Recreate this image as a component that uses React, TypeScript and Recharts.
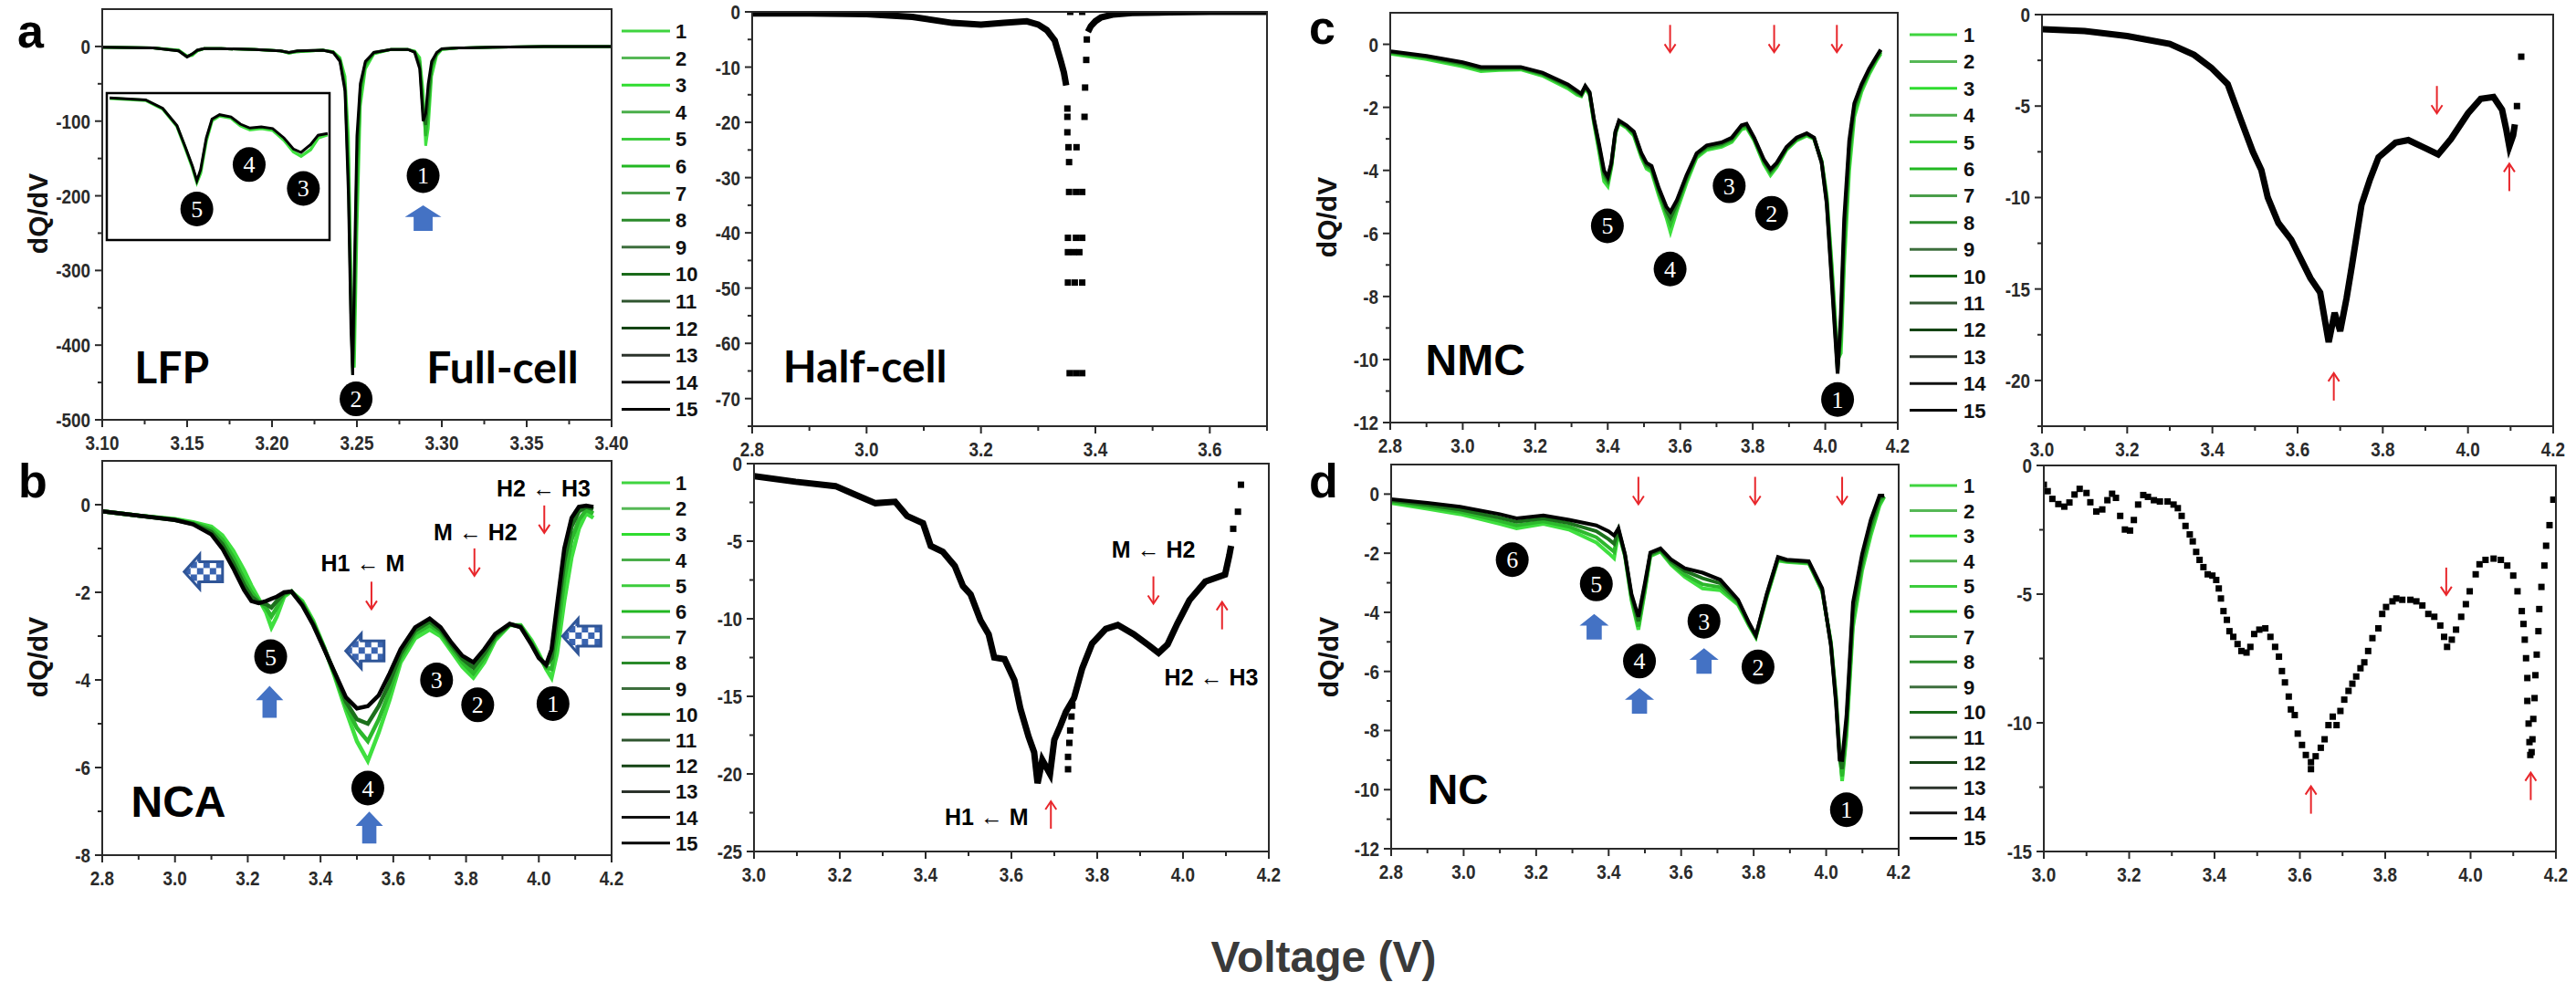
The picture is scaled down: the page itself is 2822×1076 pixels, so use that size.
import React from 'react'
import { ComposedChart, Line, Scatter, XAxis, YAxis, ReferenceDot } from 'recharts'

const SANS = '"Liberation Sans", Arial, Helvetica, sans-serif'
const SERIF = '"Liberation Serif", "Times New Roman", serif'
const CALIBRI = 'Lato, "Open Sans", sans-serif'
const INK = '#2a2a2a'
const RED = '#e8262b'
const BLUE = '#4472c4'
const BLUE_DARK = '#2f5597'

// cycle legend (1..15)
const cycles = ['1', '2', '3', '4', '5', '6', '7', '8', '9', '10', '11', '12', '13', '14', '15']
const cycleColors = [
  '#3fd43f', '#56b856', '#2fdc2f', '#4aae4a', '#3ccc3c', '#22b822', '#4a9e4a', '#2a8a2a',
  '#3d6e3d', '#1a6a1a', '#2f552f', '#144414', '#2b332b', '#111111', '#000000',
]
// cycles that are drawn as lines
const drawnKeys = ['c1', 'c5', 'c10', 'c15']
const drawnColors = ['#3fe03f', '#2cb82c', '#1c701c', '#000000']

// ---- a: LFP full-cell
const lfpV = [3.1, 3.13, 3.145, 3.15, 3.153, 3.156, 3.16, 3.17, 3.19, 3.205, 3.21, 3.215, 3.23, 3.236, 3.24, 3.243, 3.245, 3.2465, 3.2475, 3.2485, 3.25, 3.252, 3.255, 3.26, 3.27, 3.28, 3.284, 3.287, 3.289, 3.2905, 3.292, 3.294, 3.297, 3.3, 3.31, 3.33, 3.36, 3.4]
const lfpC1 = [-1, -2, -5, -13, -12, -6, -3, -3, -4, -6, -9, -7, -5, -7, -15, -40, -120, -300, -420, -430, -250, -80, -30, -10, -4, -4, -6, -15, -60, -133, -110, -40, -12, -4, -2, -1, 0, 0]
const lfpC5 = [-1, -2, -5, -13, -11, -6, -3, -3, -4, -6, -9, -7, -5, -7, -17, -50, -150, -340, -430, -380, -200, -65, -25, -9, -4, -4, -7, -20, -80, -120, -90, -30, -10, -4, -2, -1, 0, 0]
const lfpC10 = [-1, -2, -6, -14, -10, -5, -3, -3, -4, -6, -8, -6, -5, -8, -18, -55, -180, -360, -440, -340, -150, -55, -22, -8, -4, -4, -7, -25, -90, -105, -70, -25, -9, -3, -2, -1, 0, 0]
const lfpC15 = [-1, -2, -6, -14, -10, -5, -3, -3, -4, -6, -8, -6, -5, -8, -20, -60, -200, -380, -440, -300, -120, -50, -20, -8, -4, -4, -8, -30, -100, -90, -50, -20, -8, -3, -2, -1, 0, 0]

// inset of a
const insetV = [3.109, 3.128, 3.137, 3.1445, 3.149, 3.1527, 3.155, 3.157, 3.16, 3.163, 3.167, 3.173, 3.178, 3.183, 3.189, 3.195, 3.201, 3.206, 3.21, 3.215, 3.219, 3.224]
const insetGreen = [-0.75, -1.1, -2.65, -5.8, -9.8, -13.3, -15.9, -14.2, -8.4, -4.8, -3.9, -4.3, -5.7, -6.4, -6.2, -6.5, -8.3, -10.4, -11.2, -10.0, -7.9, -7.3]
const insetBlack = [-0.68, -1.02, -2.55, -5.66, -9.6, -13.0, -15.6, -13.6, -7.9, -4.5, -3.7, -4.1, -5.4, -6.1, -5.9, -6.2, -7.9, -9.9, -10.5, -9.1, -7.4, -7.1]

// ---- LFP half-cell
const lfpHalfLeftV = [2.8, 2.9, 3.0, 3.08, 3.15, 3.2, 3.24, 3.28, 3.3, 3.315, 3.329, 3.339, 3.345, 3.349]
const lfpHalfLeftY = [-0.3, -0.3, -0.4, -0.9, -2.0, -2.3, -2.0, -1.7, -2.3, -3.3, -5.2, -8.7, -11, -13.3]
const lfpHalfRightV = [3.387, 3.392, 3.4, 3.41, 3.43, 3.464, 3.53, 3.6, 3.7]
const lfpHalfRightY = [-3.6, -2.6, -1.7, -1.0, -0.5, -0.2, -0.1, 0, 0]
const lfpHalfDotV = [3.351, 3.351, 3.351, 3.353, 3.367, 3.354, 3.354, 3.366, 3.377, 3.352, 3.366, 3.377, 3.352, 3.362, 3.372, 3.352, 3.364, 3.377, 3.355, 3.366, 3.377, 3.381, 3.382, 3.384, 3.385, 3.356, 3.377]
const lfpHalfDotY = [-17.5, -19, -21.8, -24.5, -24.5, -27.2, -32.6, -32.6, -32.6, -40.9, -40.9, -40.9, -43.5, -43.5, -43.5, -49, -49, -49, -65.4, -65.4, -65.4, -19, -13.7, -8.7, -5, 0, 0]

// ---- b: NCA full-cell
const ncaV = [2.8, 2.9, 3.0, 3.05, 3.1, 3.13, 3.16, 3.19, 3.21, 3.23, 3.25, 3.265, 3.28, 3.3, 3.32, 3.35, 3.38, 3.41, 3.44, 3.47, 3.5, 3.53, 3.56, 3.59, 3.62, 3.66, 3.7, 3.73, 3.76, 3.79, 3.82, 3.85, 3.88, 3.92, 3.95, 3.98, 4.0, 4.02, 4.035, 4.05, 4.07, 4.09, 4.11, 4.13, 4.15]
const ncaC1 = [-0.15, -0.25, -0.33, -0.4, -0.5, -0.7, -1.05, -1.5, -1.85, -2.15, -2.45, -2.8, -2.55, -2.1, -1.98, -2.2, -2.65, -3.25, -3.95, -4.7, -5.4, -5.85, -5.2, -4.45, -3.6, -3.05, -2.85, -3.0, -3.35, -3.7, -3.95, -3.6, -3.1, -2.75, -2.75, -3.1, -3.4, -3.75, -3.95, -3.4, -2.2, -1.2, -0.55, -0.2, -0.3]
const ncaC5 = [-0.15, -0.25, -0.34, -0.42, -0.56, -0.8, -1.2, -1.7, -2.0, -2.2, -2.35, -2.55, -2.35, -2.05, -1.98, -2.25, -2.7, -3.27, -3.9, -4.6, -5.1, -5.4, -4.9, -4.25, -3.5, -2.95, -2.75, -2.92, -3.28, -3.6, -3.85, -3.5, -3.05, -2.74, -2.77, -3.15, -3.45, -3.72, -3.75, -3.0, -1.7, -0.8, -0.35, -0.12, -0.2]
const ncaC10 = [-0.15, -0.25, -0.35, -0.44, -0.62, -0.9, -1.33, -1.83, -2.1, -2.23, -2.27, -2.35, -2.2, -2.02, -1.98, -2.27, -2.72, -3.28, -3.87, -4.5, -4.9, -5.0, -4.6, -4.05, -3.4, -2.87, -2.67, -2.86, -3.2, -3.52, -3.72, -3.4, -3.0, -2.73, -2.78, -3.18, -3.48, -3.68, -3.5, -2.6, -1.3, -0.5, -0.15, -0.05, -0.1]
const ncaC15 = [-0.15, -0.25, -0.35, -0.45, -0.68, -1.0, -1.45, -1.95, -2.2, -2.25, -2.2, -2.15, -2.1, -2.0, -1.98, -2.3, -2.75, -3.3, -3.85, -4.4, -4.65, -4.6, -4.35, -3.85, -3.3, -2.8, -2.6, -2.8, -3.15, -3.45, -3.6, -3.3, -2.95, -2.72, -2.8, -3.2, -3.5, -3.65, -3.3, -2.3, -1.0, -0.3, -0.05, -0.02, -0.05]

// ---- NCA half-cell
const ncaHalfV = [3.0, 3.097, 3.19, 3.236, 3.283, 3.329, 3.357, 3.394, 3.412, 3.44, 3.468, 3.487, 3.505, 3.528, 3.547, 3.56, 3.584, 3.607, 3.621, 3.64, 3.653, 3.661, 3.672, 3.69, 3.7, 3.714, 3.727, 3.746, 3.765, 3.788, 3.82, 3.848, 3.885, 3.922, 3.943, 3.964, 3.987, 4.015, 4.052, 4.098, 4.108, 4.112]
const ncaHalfY = [-0.8, -1.17, -1.45, -2.0, -2.55, -2.46, -3.38, -3.84, -5.31, -5.68, -6.6, -7.89, -8.44, -10.1, -11.0, -12.5, -12.6, -13.96, -15.8, -17.6, -18.6, -20.6, -19.1, -20.0, -17.8, -16.9, -16.0, -15.1, -13.2, -11.6, -10.65, -10.4, -11.0, -11.75, -12.2, -11.65, -10.3, -8.8, -7.6, -7.15, -5.9, -5.3]
const ncaHalfDotV = [3.732, 3.732, 3.735, 3.737, 3.74, 3.742, 4.117, 4.128, 4.135]
const ncaHalfDotY = [-19.7, -18.9, -18.0, -17.2, -16.3, -15.6, -4.2, -3.1, -1.36]

// ---- c: NMC full-cell
const nmcV = [2.8, 2.9, 3.0, 3.05, 3.1, 3.16, 3.22, 3.29, 3.315, 3.327, 3.338, 3.35, 3.362, 3.376, 3.39, 3.4, 3.41, 3.421, 3.431, 3.452, 3.472, 3.493, 3.507, 3.521, 3.541, 3.562, 3.573, 3.59, 3.617, 3.645, 3.673, 3.714, 3.742, 3.769, 3.783, 3.804, 3.831, 3.849, 3.866, 3.893, 3.921, 3.949, 3.969, 3.99, 4.004, 4.018, 4.029, 4.034, 4.043, 4.052, 4.066, 4.08, 4.1, 4.121, 4.142, 4.153]
const nmcC1 = [-0.3, -0.47, -0.7, -0.85, -0.82, -0.8, -1.0, -1.4, -1.6, -1.65, -1.4, -1.6, -2.5, -3.4, -4.35, -4.5, -3.9, -2.85, -2.5, -2.65, -2.9, -3.6, -3.95, -4.05, -4.8, -5.5, -5.95, -5.3, -4.4, -3.6, -3.35, -3.25, -3.1, -2.7, -2.65, -3.05, -3.8, -4.15, -3.9, -3.35, -3.05, -2.9, -3.0, -3.7, -4.8, -7.0, -9.0, -10.0, -9.8, -7.0, -4.0, -2.3, -1.5, -0.95, -0.5, -0.3]
const nmcC5 = [-0.27, -0.43, -0.65, -0.8, -0.78, -0.77, -0.96, -1.35, -1.55, -1.62, -1.37, -1.57, -2.45, -3.3, -4.22, -4.38, -3.85, -2.82, -2.47, -2.62, -2.85, -3.55, -3.88, -3.98, -4.7, -5.38, -5.7, -5.18, -4.3, -3.55, -3.3, -3.2, -3.05, -2.65, -2.6, -3.02, -3.75, -4.08, -3.85, -3.32, -3.02, -2.87, -2.98, -3.72, -4.9, -7.2, -9.2, -10.2, -9.4, -6.5, -3.6, -2.1, -1.4, -0.88, -0.45, -0.25]
const nmcC10 = [-0.24, -0.4, -0.61, -0.76, -0.75, -0.74, -0.93, -1.31, -1.51, -1.6, -1.34, -1.54, -2.41, -3.23, -4.1, -4.3, -3.8, -2.8, -2.45, -2.6, -2.8, -3.5, -3.82, -3.92, -4.63, -5.27, -5.5, -5.07, -4.23, -3.5, -3.25, -3.15, -3.0, -2.6, -2.56, -2.99, -3.7, -4.02, -3.8, -3.29, -2.99, -2.84, -2.97, -3.74, -5.0, -7.4, -9.4, -10.35, -9.0, -6.0, -3.3, -1.98, -1.33, -0.82, -0.41, -0.2]
const nmcC15 = [-0.22, -0.37, -0.57, -0.72, -0.72, -0.72, -0.9, -1.27, -1.47, -1.57, -1.32, -1.52, -2.37, -3.16, -4.01, -4.21, -3.76, -2.77, -2.42, -2.57, -2.77, -3.46, -3.76, -3.86, -4.56, -5.16, -5.31, -4.96, -4.16, -3.46, -3.21, -3.11, -2.96, -2.57, -2.52, -2.96, -3.66, -3.96, -3.76, -3.26, -2.96, -2.82, -2.96, -3.76, -5.06, -7.56, -9.55, -10.45, -8.56, -5.56, -3.06, -1.87, -1.27, -0.77, -0.37, -0.17]

// ---- NMC half-cell
const nmcHalfV = [3.0, 3.1, 3.2, 3.3, 3.357, 3.397, 3.436, 3.466, 3.495, 3.515, 3.53, 3.555, 3.585, 3.6, 3.63, 3.653, 3.673, 3.687, 3.7, 3.715, 3.727, 3.75, 3.77, 3.79, 3.8, 3.83, 3.86, 3.9, 3.93, 3.96, 4.0, 4.03, 4.06, 4.08, 4.09, 4.097, 4.106, 4.11]
const nmcHalfY = [-0.8, -0.9, -1.17, -1.6, -2.2, -2.9, -3.8, -5.7, -7.5, -8.5, -10, -11.4, -12.3, -13, -14.4, -15.2, -17.9, -16.3, -17.3, -15.5, -13.8, -10.4, -9.0, -7.8, -7.6, -7.0, -6.86, -7.3, -7.64, -6.8, -5.4, -4.6, -4.5, -5.2, -6.3, -7.2, -6.6, -6.0]
const nmcHalfDotV = [4.115, 4.125]
const nmcHalfDotY = [-5.0, -2.3]

// ---- d: NC full-cell
const ncV = [2.8, 2.9, 2.99, 3.1, 3.146, 3.22, 3.29, 3.366, 3.4, 3.415, 3.427, 3.445, 3.463, 3.482, 3.5, 3.515, 3.543, 3.573, 3.61, 3.659, 3.708, 3.757, 3.787, 3.806, 3.836, 3.867, 3.891, 3.952, 3.989, 4.013, 4.027, 4.037, 4.044, 4.056, 4.074, 4.099, 4.123, 4.147, 4.16]
const ncC1 = [-0.3, -0.5, -0.68, -1.01, -1.16, -1.01, -1.2, -1.64, -2.0, -2.17, -1.3, -2.1, -3.6, -4.59, -3.3, -2.1, -1.95, -2.4, -2.8, -3.19, -3.25, -3.75, -4.45, -4.85, -3.5, -2.25, -2.3, -2.35, -3.3, -5.0, -6.8, -8.7, -9.71, -8.2, -4.5, -2.6, -1.4, -0.4, -0.1]
const ncC5 = [-0.26, -0.44, -0.6, -0.91, -1.06, -0.92, -1.1, -1.46, -1.8, -1.95, -1.25, -2.08, -3.53, -4.48, -3.22, -2.07, -1.92, -2.35, -2.72, -3.05, -3.15, -3.7, -4.42, -4.83, -3.46, -2.21, -2.27, -2.32, -3.27, -5.03, -6.88, -8.8, -9.55, -8.0, -4.25, -2.45, -1.25, -0.3, -0.08]
const ncC10 = [-0.21, -0.37, -0.52, -0.8, -0.94, -0.82, -0.98, -1.26, -1.53, -1.68, -1.2, -2.05, -3.45, -4.3, -3.1, -2.02, -1.88, -2.28, -2.6, -2.85, -3.02, -3.63, -4.38, -4.8, -3.42, -2.17, -2.25, -2.3, -3.23, -5.08, -6.97, -8.9, -9.3, -7.75, -3.95, -2.25, -1.05, -0.15, -0.06]
const ncC15 = [-0.17, -0.3, -0.43, -0.68, -0.82, -0.72, -0.87, -1.06, -1.26, -1.4, -1.16, -2.03, -3.38, -4.15, -3.0, -1.98, -1.84, -2.22, -2.51, -2.66, -2.9, -3.57, -4.35, -4.78, -3.38, -2.13, -2.22, -2.27, -3.19, -5.12, -7.05, -8.99, -9.0, -7.5, -3.67, -2.03, -0.87, -0.05, -0.05]

// ---- NC half-cell (markers)
const ncHalfV = [3.0, 3.009, 3.02, 3.034, 3.048, 3.06, 3.072, 3.084, 3.1, 3.109, 3.123, 3.137, 3.149, 3.16, 3.169, 3.179, 3.19, 3.202, 3.211, 3.221, 3.233, 3.244, 3.258, 3.272, 3.29, 3.304, 3.314, 3.323, 3.332, 3.342, 3.349, 3.357, 3.365, 3.374, 3.384, 3.395, 3.404, 3.41, 3.415, 3.421, 3.429, 3.435, 3.444, 3.454, 3.463, 3.475, 3.484, 3.493, 3.505, 3.519, 3.531, 3.542, 3.551, 3.558, 3.565, 3.574, 3.579, 3.588, 3.595, 3.605, 3.614, 3.626, 3.626, 3.637, 3.649, 3.658, 3.667, 3.677, 3.686, 3.695, 3.704, 3.714, 3.723, 3.732, 3.742, 3.751, 3.76, 3.77, 3.784, 3.793, 3.802, 3.817, 3.826, 3.84, 3.859, 3.873, 3.887, 3.901, 3.915, 3.929, 3.938, 3.945, 3.956, 3.966, 3.978, 3.989, 3.998, 4.012, 4.021, 4.035, 4.054, 4.071, 4.086, 4.1, 4.11, 4.12, 4.124, 4.127, 4.13, 4.133, 4.133, 4.136, 4.138, 4.14, 4.143, 4.145, 4.147, 4.15, 4.152, 4.155, 4.159, 4.161, 4.166, 4.173, 4.177, 4.185, 4.194]
const ncHalfY = [-0.75, -1.0, -1.3, -1.5, -1.6, -1.44, -1.13, -0.91, -1.07, -1.43, -1.79, -1.71, -1.35, -1.1, -1.26, -1.96, -2.49, -2.53, -2.12, -1.52, -1.15, -1.22, -1.35, -1.4, -1.4, -1.52, -1.66, -1.96, -2.35, -2.68, -2.95, -3.36, -3.67, -3.95, -4.23, -4.28, -4.45, -4.78, -5.17, -5.66, -6.0, -6.44, -6.66, -6.94, -7.21, -7.27, -7.05, -6.55, -6.38, -6.33, -6.66, -7.05, -7.43, -7.99, -8.43, -8.98, -9.48, -9.7, -10.42, -10.86, -11.25, -11.53, -11.8, -11.3, -10.97, -10.64, -10.09, -9.76, -10.09, -9.54, -9.1, -8.76, -8.48, -8.2, -7.88, -7.65, -7.21, -6.71, -6.33, -5.77, -5.5, -5.28, -5.17, -5.22, -5.22, -5.28, -5.44, -5.77, -5.88, -6.22, -6.66, -7.05, -6.77, -6.38, -5.88, -5.39, -4.89, -4.23, -3.84, -3.67, -3.62, -3.67, -3.89, -4.28, -4.89, -5.66, -6.16, -6.77, -7.49, -8.26, -9.15, -10.03, -10.75, -11.25, -11.14, -10.64, -9.85, -9.04, -8.15, -7.35, -6.44, -5.58, -4.72, -3.89, -3.12, -2.32, -1.33]

// ---- ticks
const xMajFull = [2.8, 3.0, 3.2, 3.4, 3.6, 3.8, 4.0, 4.2]
const xMinFull = [2.9, 3.1, 3.3, 3.5, 3.7, 3.9, 4.1]
const xMajHalf = [3.0, 3.2, 3.4, 3.6, 3.8, 4.0, 4.2]
const xMinHalf = [3.1, 3.3, 3.5, 3.7, 3.9, 4.1]
const xMajLfp = [3.1, 3.15, 3.2, 3.25, 3.3, 3.35, 3.4]
const xMinLfp = [3.125, 3.175, 3.225, 3.275, 3.325, 3.375]
const xMajLfpHalf = [2.8, 3.0, 3.2, 3.4, 3.6]
const xMinLfpHalf = [2.9, 3.1, 3.3, 3.5, 3.7]
const yMajA = [0, -100, -200, -300, -400, -500]
const yMinA = [-50, -150, -250, -350, -450]
const yMajLfpHalf = [0, -10, -20, -30, -40, -50, -60, -70]
const yMinLfpHalf = [-5, -15, -25, -35, -45, -55, -65, -75]
const yMajTwelve = [0, -2, -4, -6, -8, -10, -12]
const yMinTwelve = [-1, -3, -5, -7, -9, -11]
const yMajB = [0, -2, -4, -6, -8]
const yMinB = [-1, -3, -5, -7]
const yMajNmcHalf = [0, -5, -10, -15, -20]
const yMinNmcHalf = [-2.5, -7.5, -12.5, -17.5, -22.5]
const yMajNcaHalf = [0, -5, -10, -15, -20, -25]
const yMinNcaHalf = [-2.5, -7.5, -12.5, -17.5, -22.5]
const yMajNcHalf = [0, -5, -10, -15]
const yMinNcHalf = [-2.5, -7.5, -12.5]

// ---- annotations (data coordinates)
const annA = [
  { x: 3.289, y: -173, kind: 'num', text: '1' },
  { x: 3.289, y: -230, kind: 'up', w: 40, h: 28 },
  { x: 3.2495, y: -472, kind: 'num', text: '2' },
  { x: 3.119, y: -451, kind: 'titleC', text: 'LFP' },
  { x: 3.291, y: -451, kind: 'titleC', text: 'Full-cell' },
]
const annInset = [
  { x: 3.155, y: -20.7, kind: 'num', text: '5' },
  { x: 3.1826, y: -12.7, kind: 'num', text: '4' },
  { x: 3.2112, y: -17.0, kind: 'num', text: '3' },
]
const annLfpHalf = [{ x: 2.854, y: -67.1, kind: 'titleC', text: 'Half-cell' }]
const annB = [
  { x: 4.013, y: 0.19, kind: 'label', text: 'H2 ← H3' },
  { x: 4.015, y: -0.33, kind: 'down' },
  { x: 3.826, y: -0.81, kind: 'label', text: 'M ← H2' },
  { x: 3.823, y: -1.31, kind: 'down' },
  { x: 3.516, y: -1.53, kind: 'label', text: 'H1 ← M' },
  { x: 3.54, y: -2.07, kind: 'down' },
  { x: 3.078, y: -1.53, kind: 'left' },
  { x: 3.522, y: -3.34, kind: 'left' },
  { x: 4.118, y: -3.0, kind: 'left' },
  { x: 3.263, y: -3.47, kind: 'num', text: '5' },
  { x: 3.719, y: -4.0, kind: 'num', text: '3' },
  { x: 3.832, y: -4.57, kind: 'num', text: '2' },
  { x: 4.039, y: -4.54, kind: 'num', text: '1' },
  { x: 3.53, y: -6.47, kind: 'num', text: '4' },
  { x: 3.26, y: -4.5, kind: 'up', w: 30, h: 35 },
  { x: 3.534, y: -7.37, kind: 'up', w: 30, h: 35 },
  { x: 2.879, y: -7.13, kind: 'title', text: 'NCA' },
]
const annNcaHalf = [
  { x: 3.931, y: -6.05, kind: 'label', text: 'M ← H2' },
  { x: 3.931, y: -8.15, kind: 'down' },
  { x: 4.091, y: -9.8, kind: 'rup' },
  { x: 4.066, y: -14.3, kind: 'label', text: 'H2 ← H3' },
  { x: 3.542, y: -23.3, kind: 'label', text: 'H1 ← M' },
  { x: 3.692, y: -22.65, kind: 'rup' },
]
const annC = [
  { x: 3.572, y: 0.18, kind: 'down' },
  { x: 3.859, y: 0.18, kind: 'down' },
  { x: 4.032, y: 0.18, kind: 'down' },
  { x: 3.399, y: -5.76, kind: 'num', text: '5' },
  { x: 3.572, y: -7.13, kind: 'num', text: '4' },
  { x: 3.735, y: -4.49, kind: 'num', text: '3' },
  { x: 3.852, y: -5.36, kind: 'num', text: '2' },
  { x: 4.034, y: -11.27, kind: 'num', text: '1' },
  { x: 2.897, y: -10.5, kind: 'title', text: 'NMC' },
]
const annNmcHalf = [
  { x: 3.927, y: -4.65, kind: 'down' },
  { x: 3.685, y: -20.35, kind: 'rup' },
  { x: 4.097, y: -8.9, kind: 'rup' },
]
const annD = [
  { x: 3.482, y: 0.12, kind: 'down' },
  { x: 3.804, y: 0.12, kind: 'down' },
  { x: 4.044, y: 0.12, kind: 'down' },
  { x: 3.134, y: -2.22, kind: 'num', text: '6' },
  { x: 3.366, y: -3.04, kind: 'num', text: '5' },
  { x: 3.663, y: -4.3, kind: 'num', text: '3' },
  { x: 3.485, y: -5.65, kind: 'num', text: '4' },
  { x: 3.812, y: -5.85, kind: 'num', text: '2' },
  { x: 4.056, y: -10.68, kind: 'num', text: '1' },
  { x: 3.36, y: -4.49, kind: 'up', w: 32, h: 28 },
  { x: 3.663, y: -5.65, kind: 'up', w: 32, h: 28 },
  { x: 3.485, y: -7.0, kind: 'up', w: 32, h: 28 },
  { x: 2.901, y: -10.48, kind: 'title', text: 'NC', size: 46 },
]
const annNcHalf = [
  { x: 3.943, y: -4.5, kind: 'down' },
  { x: 3.626, y: -13.0, kind: 'rup' },
  { x: 4.141, y: -12.47, kind: 'rup' },
]

// ---- plot boxes (px)
const boxes: Record<string, { l: number; t: number; w: number; h: number }> = {
  a: { l: 112, t: 10, w: 558, h: 450 },
  lfpH: { l: 824, t: 13, w: 564, h: 454 },
  c: { l: 1523, t: 14, w: 556, h: 449 },
  nmcH: { l: 2237, t: 16, w: 560, h: 451 },
  b: { l: 112, t: 505, w: 558, h: 432 },
  ncaH: { l: 826, t: 508, w: 564, h: 425 },
  d: { l: 1524, t: 509, w: 556, h: 421 },
  ncH: { l: 2239, t: 510, w: 561, h: 423 },
}
const insetBox = { l: 117, t: 102, w: 244, h: 161 }

const rows = (v: number[], s: number[][]) =>
  v.map((x, i) => ({ v: x, c1: s[0][i], c5: s[1][i], c10: s[2][i], c15: s[3][i] }))
const pts = (v: number[], y: number[]) => v.map((x, i) => ({ v: x, y: y[i] }))

const near = (arr: number[], v: number) => arr.some((m) => Math.abs(m - v) < 1e-6)

// narrow bold tick text (Arial Narrow look)
function NarrowText({ x, y, anchor, children }: any) {
  return (
    <text
      transform={`translate(${x} ${y}) scale(0.86 1)`}
      textAnchor={anchor}
      fontFamily={SANS}
      fontWeight={700}
      fontSize={22}
      fill={INK}
    >
      {children}
    </text>
  )
}

function xTick(majors: number[], digits: number) {
  return (p: any) => {
    const v = p.payload ? p.payload.value : 0
    const major = near(majors, v)
    return (
      <g>
        <line x1={p.x} y1={p.y} x2={p.x} y2={p.y + (major ? 8 : 5)} stroke={INK} strokeWidth={2} />
        {major && <NarrowText x={p.x} y={p.y + 33} anchor="middle">{v.toFixed(digits)}</NarrowText>}
      </g>
    )
  }
}

function yTick(majors: number[]) {
  return (p: any) => {
    const v = p.payload ? p.payload.value : 0
    const major = near(majors, v)
    return (
      <g>
        <line x1={p.x - (major ? 8 : 5)} y1={p.y} x2={p.x} y2={p.y} stroke={INK} strokeWidth={2} />
        {major && <NarrowText x={p.x - 13} y={p.y + 8} anchor="end">{String(v)}</NarrowText>}
      </g>
    )
  }
}

function markShape(a: any, id: string) {
  return (p: any) => {
    const cx = p.cx
    const cy = p.cy
    if (cx == null || cy == null) return <g />
    switch (a.kind) {
      case 'num':
        return (
          <g>
            <ellipse cx={cx} cy={cy} rx={18} ry={19} fill="#000" />
            <text x={cx} y={cy + 9} textAnchor="middle" fontFamily={SERIF} fontSize={26} fill="#fff">
              {a.text}
            </text>
          </g>
        )
      case 'up': {
        const w = a.w || 32
        const h = a.h || 32
        const top = cy - h / 2
        const hb = top + h * 0.45
        const sw = w * 0.26
        const q = [
          [cx, top], [cx + w / 2, hb], [cx + sw, hb], [cx + sw, cy + h / 2],
          [cx - sw, cy + h / 2], [cx - sw, hb], [cx - w / 2, hb],
        ]
        return <polygon points={q.map((r) => r.join(',')).join(' ')} fill={BLUE} />
      }
      case 'left': {
        const q = [
          [cx - 21, cy], [cx - 4, cy - 19], [cx - 4, cy - 11], [cx + 21, cy - 11],
          [cx + 21, cy + 11], [cx - 4, cy + 11], [cx - 4, cy + 19],
        ]
        return (
          <g>
            <defs>
              <pattern id={id} patternUnits="userSpaceOnUse" x={cx} y={cy - 11} width={14} height={14}>
                <rect width={14} height={14} fill="#fff" />
                <rect width={7} height={7} fill="#3a64b0" />
                <rect x={7} y={7} width={7} height={7} fill="#3a64b0" />
              </pattern>
            </defs>
            <polygon points={q.map((r) => r.join(',')).join(' ')} fill={`url(#${id})`} stroke={BLUE_DARK} strokeWidth={3} />
          </g>
        )
      }
      case 'down':
        return (
          <g stroke={RED} strokeWidth={2} fill="none">
            <line x1={cx} y1={cy - 15} x2={cx} y2={cy + 14} />
            <polyline points={`${cx - 6},${cy + 6} ${cx},${cy + 15} ${cx + 6},${cy + 6}`} />
          </g>
        )
      case 'rup':
        return (
          <g stroke={RED} strokeWidth={2} fill="none">
            <line x1={cx} y1={cy + 15} x2={cx} y2={cy - 14} />
            <polyline points={`${cx - 6},${cy - 6} ${cx},${cy - 15} ${cx + 6},${cy - 6}`} />
          </g>
        )
      case 'label':
        return (
          <text x={cx} y={cy} textAnchor="middle" fontFamily={SANS} fontWeight={700} fontSize={25} fill="#000">
            {a.text}
          </text>
        )
      case 'titleC':
        return (
          <text x={cx} y={cy} textAnchor="start" fontFamily={CALIBRI} fontWeight={700} fontSize={48} fill="#000">
            {a.text}
          </text>
        )
      default:
        return (
          <text x={cx} y={cy} textAnchor="start" fontFamily={SANS} fontWeight={700} fontSize={a.size || 48} fill="#000">
            {a.text}
          </text>
        )
    }
  }
}

const marks = (list: any[], id: string) =>
  list.map((a, i) => (
    <ReferenceDot key={`${id}-${i}`} x={a.x} y={a.y} r={1} ifOverflow="visible" shape={markShape(a, `${id}-${i}`)} />
  ))

const cycleLines = (w: number) =>
  drawnKeys.map((k, i) => (
    <Line key={k} type="linear" dataKey={k} stroke={drawnColors[i]} strokeWidth={w} dot={false} isAnimationActive={false} />
  ))

const square = (p: any) =>
  p.cx == null ? <g /> : <rect x={p.cx - 3.5} y={p.cy - 3.5} width={7} height={7} fill="#000" />

const TOP = 24

function Panel(props: any) {
  const { box, xd, yd, xMaj, xMin, yMaj, yMin, digits, data, yKey, children } = props
  const xt = [...xMaj, ...xMin].sort((p: number, q: number) => p - q)
  const yt = [...yMaj, ...yMin].sort((p: number, q: number) => p - q)
  return (
    <div style={{ position: 'absolute', left: box.l - 60, top: box.t - TOP }}>
      <ComposedChart width={box.w + 92} height={box.h + TOP + 40} data={data} margin={{ top: TOP, right: 32, bottom: 0, left: 0 }}>
        <XAxis
          dataKey="v" type="number" domain={xd} ticks={xt} interval={0} allowDataOverflow
          tickSize={0} tickMargin={0} axisLine={false} tickLine={false} height={40} tick={xTick(xMaj, digits)}
        />
        <YAxis
          dataKey={yKey} type="number" domain={yd} ticks={yt} interval={0} allowDataOverflow
          tickSize={0} tickMargin={0} axisLine={false} tickLine={false} width={60} tick={yTick(yMaj)}
        />
        {children}
      </ComposedChart>
    </div>
  )
}

function Legend({ x1, x2, tx, y0, dy }: any) {
  return (
    <g>
      {cycles.map((c, i) => (
        <g key={c}>
          <line x1={x1} x2={x2} y1={y0 + i * dy} y2={y0 + i * dy} stroke={cycleColors[i]} strokeWidth={3} />
          <text x={tx} y={y0 + i * dy} dy="0.36em" fontFamily={SANS} fontWeight={700} fontSize={22} fill="#111">
            {c}
          </text>
        </g>
      ))}
    </g>
  )
}

export default function App() {
  return (
    <div style={{ position: 'absolute', left: 0, top: 0, width: 2822, height: 1076, background: '#fff', overflow: 'hidden' }}>
      {/* a */}
      <Panel box={boxes.a} xd={[3.1, 3.4]} yd={[-500, 50]} xMaj={xMajLfp} xMin={xMinLfp} yMaj={yMajA} yMin={yMinA} digits={2}
        data={rows(lfpV, [lfpC1, lfpC5, lfpC10, lfpC15])}>
        {cycleLines(3)}
        {marks(annA, 'a')}
      </Panel>
      <div style={{ position: 'absolute', left: insetBox.l, top: insetBox.t }}>
        <ComposedChart width={insetBox.w} height={insetBox.h} data={insetV.map((v, i) => ({ v, g: insetGreen[i], k: insetBlack[i] }))}
          margin={{ top: 0, right: 0, bottom: 0, left: 0 }}>
          <XAxis dataKey="v" type="number" domain={[3.1075, 3.225]} hide allowDataOverflow />
          <YAxis type="number" domain={[-26.3, 0.2]} hide allowDataOverflow />
          <Line type="linear" dataKey="g" stroke="#3fe03f" strokeWidth={3.5} dot={false} isAnimationActive={false} />
          <Line type="linear" dataKey="k" stroke="#000" strokeWidth={3} dot={false} isAnimationActive={false} />
          {marks(annInset, 'in')}
        </ComposedChart>
      </div>

      {/* LFP half */}
      <Panel box={boxes.lfpH} xd={[2.8, 3.7]} yd={[-75, 0]} xMaj={xMajLfpHalf} xMin={xMinLfpHalf} yMaj={yMajLfpHalf} yMin={yMinLfpHalf} digits={1} yKey="y">
        <Line data={pts(lfpHalfLeftV, lfpHalfLeftY)} type="linear" dataKey="y" stroke="#000" strokeWidth={7} dot={false} isAnimationActive={false} />
        <Line data={pts(lfpHalfRightV, lfpHalfRightY)} type="linear" dataKey="y" stroke="#000" strokeWidth={7} dot={false} isAnimationActive={false} />
        <Scatter data={pts(lfpHalfDotV, lfpHalfDotY)} dataKey="y" shape={square} isAnimationActive={false} />
        {marks(annLfpHalf, 'lh')}
      </Panel>

      {/* c */}
      <Panel box={boxes.c} xd={[2.8, 4.2]} yd={[-12, 1]} xMaj={xMajFull} xMin={xMinFull} yMaj={yMajTwelve} yMin={yMinTwelve} digits={1}
        data={rows(nmcV, [nmcC1, nmcC5, nmcC10, nmcC15])}>
        {cycleLines(4)}
        {marks(annC, 'c')}
      </Panel>

      {/* NMC half */}
      <Panel box={boxes.nmcH} xd={[3.0, 4.2]} yd={[-22.5, 0]} xMaj={xMajHalf} xMin={xMinHalf} yMaj={yMajNmcHalf} yMin={yMinNmcHalf} digits={1} yKey="y">
        <Line data={pts(nmcHalfV, nmcHalfY)} type="linear" dataKey="y" stroke="#000" strokeWidth={7} dot={false} isAnimationActive={false} />
        <Scatter data={pts(nmcHalfDotV, nmcHalfDotY)} dataKey="y" shape={square} isAnimationActive={false} />
        {marks(annNmcHalf, 'mh')}
      </Panel>

      {/* b */}
      <Panel box={boxes.b} xd={[2.8, 4.2]} yd={[-8, 1]} xMaj={xMajFull} xMin={xMinFull} yMaj={yMajB} yMin={yMinB} digits={1}
        data={rows(ncaV, [ncaC1, ncaC5, ncaC10, ncaC15])}>
        {cycleLines(4.5)}
        {marks(annB, 'b')}
      </Panel>

      {/* NCA half */}
      <Panel box={boxes.ncaH} xd={[3.0, 4.2]} yd={[-25, 0]} xMaj={xMajHalf} xMin={xMinHalf} yMaj={yMajNcaHalf} yMin={yMinNcaHalf} digits={1} yKey="y">
        <Line data={pts(ncaHalfV, ncaHalfY)} type="linear" dataKey="y" stroke="#000" strokeWidth={7} dot={false} isAnimationActive={false} />
        <Scatter data={pts(ncaHalfDotV, ncaHalfDotY)} dataKey="y" shape={square} isAnimationActive={false} />
        {marks(annNcaHalf, 'nh')}
      </Panel>

      {/* d */}
      <Panel box={boxes.d} xd={[2.8, 4.2]} yd={[-12, 1]} xMaj={xMajFull} xMin={xMinFull} yMaj={yMajTwelve} yMin={yMinTwelve} digits={1}
        data={rows(ncV, [ncC1, ncC5, ncC10, ncC15])}>
        {cycleLines(4)}
        {marks(annD, 'd')}
      </Panel>

      {/* NC half */}
      <Panel box={boxes.ncH} xd={[3.0, 4.2]} yd={[-15, 0]} xMaj={xMajHalf} xMin={xMinHalf} yMaj={yMajNcHalf} yMin={yMinNcHalf} digits={1} yKey="y">
        <Scatter data={pts(ncHalfV, ncHalfY)} dataKey="y" shape={square} isAnimationActive={false} />
        {marks(annNcHalf, 'ch')}
      </Panel>

      {/* frames, legends, shared text */}
      <svg width={2822} height={1076} style={{ position: 'absolute', left: 0, top: 0, pointerEvents: 'none' }}>
        {Object.keys(boxes).map((k) => {
          const b = boxes[k]
          return <rect key={k} x={b.l} y={b.t} width={b.w} height={b.h} fill="none" stroke={INK} strokeWidth={2} />
        })}
        <rect x={insetBox.l} y={insetBox.t} width={insetBox.w} height={insetBox.h} fill="none" stroke="#000" strokeWidth={2.5} />

        <Legend x1={681} x2={734} tx={740} y0={34} dy={29.6} />
        <Legend x1={681} x2={734} tx={740} y0={529} dy={28.2} />
        <Legend x1={2092} x2={2144} tx={2151} y0={38} dy={29.4} />
        <Legend x1={2092} x2={2144} tx={2151} y0={532} dy={27.6} />

        {[
          { t: 'a', x: 19, y: 52 },
          { t: 'b', x: 20, y: 545 },
          { t: 'c', x: 1434, y: 48 },
          { t: 'd', x: 1434, y: 545 },
        ].map((l) => (
          <text key={l.t} x={l.x} y={l.y} fontFamily={SANS} fontWeight={700} fontSize={52} fill="#000">
            {l.t}
          </text>
        ))}

        {[
          { x: 41, y: 234 },
          { x: 41, y: 720 },
          { x: 1453, y: 238 },
          { x: 1455, y: 720 },
        ].map((p, i) => (
          <text key={i} x={p.x} y={p.y} transform={`rotate(-90 ${p.x} ${p.y})`} textAnchor="middle" dominantBaseline="central"
            fontFamily={SANS} fontWeight={700} fontSize={30} fill="#111">
            dQ/dV
          </text>
        ))}

        <text x={1450} y={1065} textAnchor="middle" fontFamily={SANS} fontWeight={700} fontSize={48} fill="#3a3a3a">
          Voltage (V)
        </text>
      </svg>
    </div>
  )
}
